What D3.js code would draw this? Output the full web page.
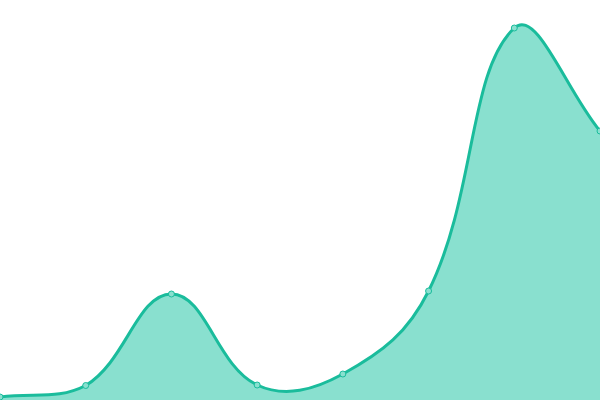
<!DOCTYPE html>
<html><head><meta charset="utf-8">
<script src="https://cdn.jsdelivr.net/npm/d3@7"></script>
<style>html,body{margin:0;padding:0;background:#fff;}svg{display:block;}</style>
</head><body>
<svg id="c" width="600" height="400"></svg>
<script>
const categories = [0, 1, 2, 3, 4, 5, 6, 7];
const values = [3, 14.5, 106, 15, 26, 109, 372, 269];

const W = 600, H = 400;
const svg = d3.select('#c');
const x = d3.scaleLinear().domain([0, categories.length - 1]).range([0, W]);
const y = d3.scaleLinear().domain([0, 400]).range([H, 0]);
const data = categories.map((c, i) => ({c, v: values[i]}));

// Spline curve with tension 0.4 (chord-weighted control points)
function SplineCurve(context, t) { this._context = context; this._t = t; }
SplineCurve.prototype = {
  areaStart() { this._line = 0; },
  areaEnd() { this._line = NaN; },
  lineStart() { this._pts = []; },
  point(px, py) { this._pts.push([+px, +py]); },
  lineEnd() {
    const p = this._pts, n = p.length, ctx = this._context, t = this._t;
    if (!n) return;
    const cps = p.map((cur, i) => {
      const prev = i > 0 ? p[i - 1] : cur;
      const next = i < n - 1 ? p[i + 1] : cur;
      const d01 = Math.hypot(cur[0] - prev[0], cur[1] - prev[1]);
      const d12 = Math.hypot(next[0] - cur[0], next[1] - cur[1]);
      let s01 = d01 / (d01 + d12), s12 = d12 / (d01 + d12);
      if (isNaN(s01)) s01 = 0; if (isNaN(s12)) s12 = 0;
      const fa = t * s01, fb = t * s12;
      const clampX = v => Math.max(0, Math.min(W, v));
      const clampY = v => Math.max(0, Math.min(H, v));
      return {
        prev: [clampX(cur[0] - fa * (next[0] - prev[0])), clampY(cur[1] - fa * (next[1] - prev[1]))],
        next: [clampX(cur[0] + fb * (next[0] - prev[0])), clampY(cur[1] + fb * (next[1] - prev[1]))]
      };
    });
    if (this._line) ctx.lineTo(p[0][0], p[0][1]); else ctx.moveTo(p[0][0], p[0][1]);
    for (let i = 1; i < n; i++) {
      ctx.bezierCurveTo(cps[i - 1].next[0], cps[i - 1].next[1], cps[i].prev[0], cps[i].prev[1], p[i][0], p[i][1]);
    }
    if (this._line || (this._line !== 0 && n === 1)) ctx.closePath();
    this._line = 1 - this._line;
  }
};
const curve = ctx => new SplineCurve(ctx, 0.4);

svg.append('path').datum(data)
  .attr('d', d3.area().x(d => x(d.c)).y0(H).y1(d => y(d.v)).curve(curve))
  .attr('fill', '#89e0cf');
svg.append('path').datum(data)
  .attr('d', d3.line().x(d => x(d.c)).y(d => y(d.v)).curve(curve))
  .attr('fill', 'none').attr('stroke', '#1abc9c').attr('stroke-width', 3);
svg.selectAll('circle').data(data).enter().append('circle')
  .attr('cx', d => x(d.c)).attr('cy', d => y(d.v)).attr('r', 3)
  .attr('fill', '#89e0cf').attr('stroke', '#1abc9c').attr('stroke-width', 1);
</script>
</body></html>
